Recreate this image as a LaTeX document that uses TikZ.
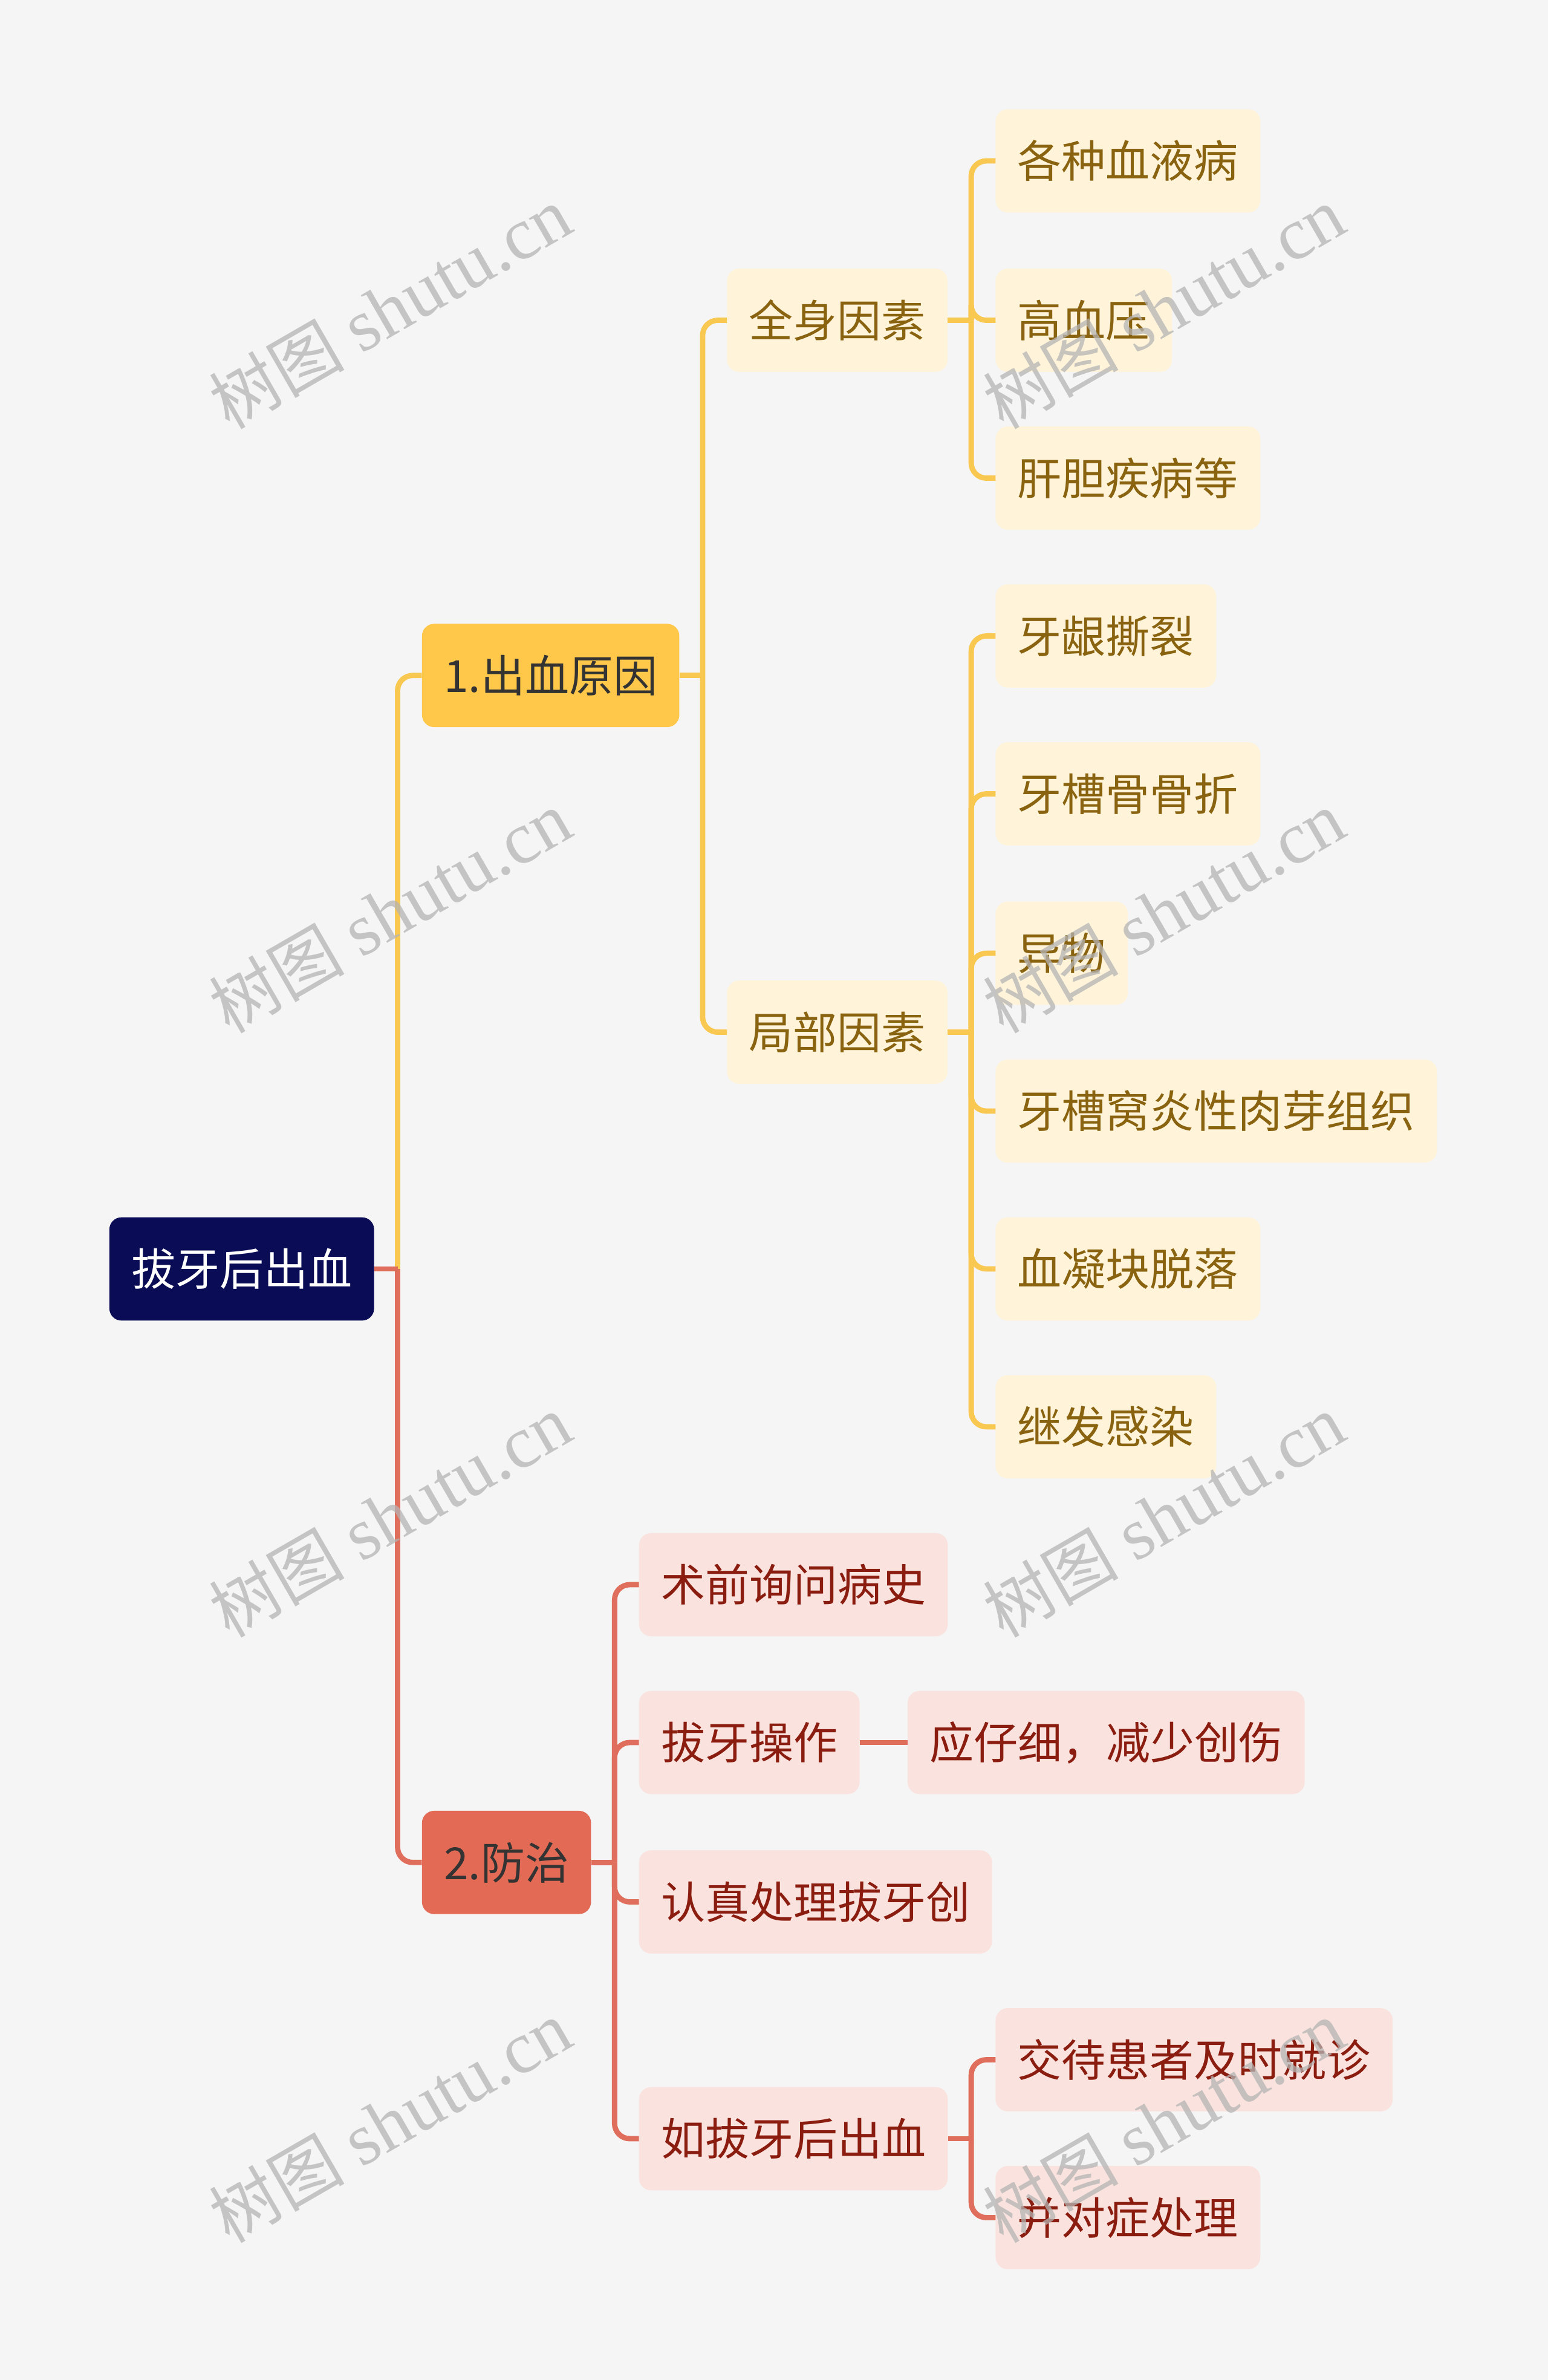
\documentclass[tikz,border=0pt]{standalone}
\usepackage{fontspec}
\setmainfont{Noto Sans CJK SC}
\newfontfamily\wmcjk{Noto Sans CJK SC}
\newfontfamily\wmlat{Liberation Serif}
\definecolor{bgc}{HTML}{F5F5F5}
\definecolor{rootc}{HTML}{0A0D55}
\definecolor{ylc}{HTML}{FFC84A}
\definecolor{ylline}{HTML}{F8C850}
\definecolor{creamc}{HTML}{FFF4DA}
\definecolor{brownc}{HTML}{8A6310}
\definecolor{rdc}{HTML}{E36B55}
\definecolor{rdline}{HTML}{E06E5C}
\definecolor{pinkc}{HTML}{FAE3DE}
\definecolor{dredc}{HTML}{8A1D10}
\definecolor{dkc}{HTML}{333333}
\definecolor{wmc}{HTML}{B4B4B4}
\begin{document}
\begin{tikzpicture}[x=2.5098pt,y=-2.5098pt,
  base/.style={rounded corners=20pt, inner xsep=36.4pt, inner ysep=0pt,
    minimum height=170.7pt, anchor=west, font=\fontsize{73pt}{80pt}\selectfont},
  rootn/.style={base, fill=rootc, text=white},
  ylone/.style={base, fill=ylc, text=dkc},
  rdone/.style={base, fill=rdc, text=dkc},
  yleaf/.style={base, fill=creamc, text=brownc},
  rleaf/.style={base, fill=pinkc, text=dredc},
  yline/.style={draw=ylline, line width=8.8pt, rounded corners=25pt},
  rline/.style={draw=rdline, line width=8.8pt, rounded corners=25pt},
  wm/.style={rotate=30, text=wmc, text opacity=0.75, inner sep=0pt}
]
\fill[bgc] (0,0) rectangle (1020,1568);
\useasboundingbox (0,0) rectangle (1020,1568);

% bus coordinates
\coordinate (t0) at (262,0);
\coordinate (t1) at (463,0);
\coordinate (t2) at (640,0);
\coordinate (t3) at (405,0);

% nodes
\node[rootn] (root) at (72,836) {拔牙后出血};
\node[ylone] (a) at (278,445) {1.出血原因};
\node[rdone] (b) at (278,1227) {2.防治};

\node[yleaf] (a1) at (479,211) {全身因素};
\node[yleaf] (a2) at (479,680) {局部因素};

\node[yleaf] (a11) at (656,106) {各种血液病};
\node[yleaf] (a12) at (656,211) {高血压};
\node[yleaf] (a13) at (656,315) {肝胆疾病等};

\node[yleaf] (a21) at (656,419) {牙龈撕裂};
\node[yleaf] (a22) at (656,523) {牙槽骨骨折};
\node[yleaf] (a23) at (656,628) {异物};
\node[yleaf] (a24) at (656,732) {牙槽窝炎性肉芽组织};
\node[yleaf] (a25) at (656,836) {血凝块脱落};
\node[yleaf] (a26) at (656,940) {继发感染};

\node[rleaf] (b1) at (421,1044) {术前询问病史};
\node[rleaf] (b2) at (421,1148) {拔牙操作};
\node[rleaf] (b21) at (598,1148) {应仔细，减少创伤};
\node[rleaf] (b3) at (421,1253) {认真处理拔牙创};
\node[rleaf] (b4) at (421,1409) {如拔牙后出血};
\node[rleaf] (b41) at (656,1357) {交待患者及时就诊};
\node[rleaf] (b42) at (656,1461) {并对症处理};

% connectors: root
\draw[yline] (root.east -| t0) |- (a.west);
\draw[rline] (root.east -| t0) |- (b.west);
\draw[rline, sharp corners] (root.east) -- (root.east -| t0);

% 1.出血原因
\draw[yline, sharp corners] (a.east) -- (a.east -| t1);
\draw[yline] (a.east -| t1) |- (a1.west);
\draw[yline] (a.east -| t1) |- (a2.west);

\draw[yline, sharp corners] (a1.east) -- (a1.east -| t2);
\foreach \n in {a11,a12,a13}{\draw[yline] (a1.east -| t2) |- (\n.west);}
\draw[yline, sharp corners] (a2.east) -- (a2.east -| t2);
\foreach \n in {a21,a22,a23,a24,a25,a26}{\draw[yline] (a2.east -| t2) |- (\n.west);}

% 2.防治
\draw[rline, sharp corners] (b.east) -- (b.east -| t3);
\foreach \n in {b1,b2,b3,b4}{\draw[rline] (b.east -| t3) |- (\n.west);}
\draw[rline, sharp corners] (b2.east) -- (b21.west);
\draw[rline, sharp corners] (b4.east) -- (b4.east -| t2);
\foreach \n in {b41,b42}{\draw[rline] (b4.east -| t2) |- (\n.west);}

% watermarks
\foreach \cx/\cy [count=\i] in {257/203,767/203,257/601,767/601,257/999,767/999,257/1398,767/1398}{
  \node[wm] (wm\i) at (\cx,\cy) {{\wmcjk\fontsize{112pt}{120pt}\selectfont 树图}\hspace{28pt}{\wmlat\fontsize{122pt}{130pt}\selectfont shutu.cn}};
}
\end{tikzpicture}
\end{document}
